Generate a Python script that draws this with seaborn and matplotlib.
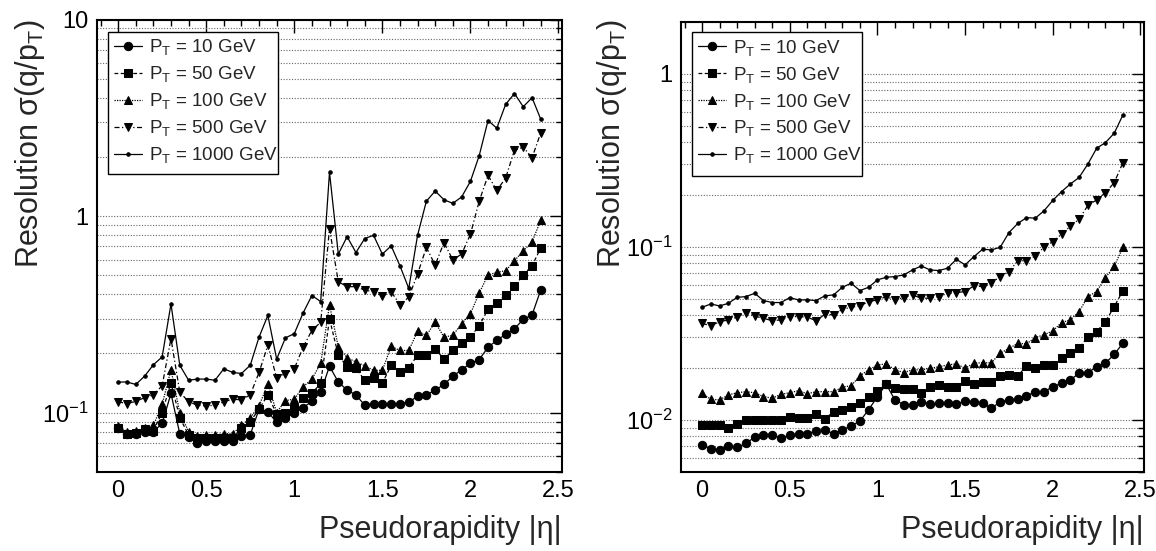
import numpy as np
import matplotlib
matplotlib.use("Agg")
import matplotlib.pyplot as plt
import seaborn as sns
from matplotlib.patches import Rectangle
from matplotlib.ticker import (LogLocator, MultipleLocator, FuncFormatter,
                               NullFormatter, FixedLocator)

# ---------------- data ----------------
eta = [0.00, 0.05, 0.10, 0.15, 0.20, 0.25, 0.30, 0.35, 0.40, 0.45,
       0.50, 0.55, 0.60, 0.65, 0.70, 0.75, 0.80, 0.85, 0.90, 0.95,
       1.00, 1.05, 1.10, 1.15, 1.20, 1.25, 1.30, 1.35, 1.40, 1.45,
       1.50, 1.55, 1.60, 1.65, 1.70, 1.75, 1.80, 1.85, 1.90, 1.95,
       2.00, 2.05, 2.10, 2.15, 2.20, 2.25, 2.30, 2.35, 2.40]

labels = ["P$_\\mathregular{T}$ = 10 GeV", "P$_\\mathregular{T}$ = 50 GeV",
          "P$_\\mathregular{T}$ = 100 GeV", "P$_\\mathregular{T}$ = 500 GeV",
          "P$_\\mathregular{T}$ = 1000 GeV"]

# left panel
left_pt10 = [0.083, 0.078, 0.078, 0.080, 0.080, 0.088, 0.125, 0.078, 0.075, 0.070,
             0.072, 0.072, 0.072, 0.072, 0.076, 0.077, 0.104, 0.101, 0.089, 0.094,
             0.099, 0.106, 0.114, 0.127, 0.172, 0.143, 0.130, 0.123, 0.109, 0.111,
             0.110, 0.111, 0.111, 0.113, 0.121, 0.123, 0.130, 0.139, 0.153, 0.165,
             0.178, 0.186, 0.215, 0.233, 0.250, 0.267, 0.298, 0.314, 0.422]
left_pt50 = [0.083, 0.078, 0.079, 0.082, 0.081, 0.100, 0.142, 0.094, 0.077, 0.074,
             0.074, 0.074, 0.074, 0.074, 0.083, 0.090, 0.104, 0.123, 0.098, 0.100,
             0.106, 0.118, 0.125, 0.141, 0.300, 0.196, 0.171, 0.168, 0.146, 0.150,
             0.141, 0.174, 0.161, 0.169, 0.196, 0.197, 0.211, 0.187, 0.207, 0.225,
             0.242, 0.277, 0.335, 0.360, 0.398, 0.439, 0.502, 0.558, 0.690]
left_pt100 = [0.085, 0.080, 0.081, 0.083, 0.086, 0.110, 0.165, 0.100, 0.080, 0.076,
              0.077, 0.077, 0.078, 0.078, 0.086, 0.094, 0.108, 0.140, 0.100, 0.115,
              0.117, 0.135, 0.148, 0.178, 0.353, 0.216, 0.190, 0.181, 0.173, 0.164,
              0.164, 0.217, 0.207, 0.207, 0.259, 0.247, 0.288, 0.242, 0.247, 0.283,
              0.318, 0.406, 0.501, 0.517, 0.527, 0.592, 0.665, 0.738, 0.955]
left_pt500 = [0.1135, 0.111, 0.114, 0.119, 0.123, 0.137, 0.238, 0.127, 0.1135, 0.109,
              0.108, 0.109, 0.1135, 0.117, 0.116, 0.123, 0.160, 0.220, 0.150, 0.158,
              0.167, 0.215, 0.262, 0.288, 0.863, 0.463, 0.437, 0.437, 0.420, 0.412,
              0.391, 0.412, 0.354, 0.386, 0.507, 0.692, 0.563, 0.733, 0.599, 0.640,
              0.807, 1.19, 1.61, 1.35, 1.56, 2.16, 2.24, 1.98, 2.66]
left_pt1000 = [0.143, 0.143, 0.139, 0.153, 0.175, 0.192, 0.357, 0.174, 0.146, 0.148,
               0.148, 0.146, 0.167, 0.160, 0.158, 0.174, 0.242, 0.312, 0.187, 0.240,
               0.252, 0.321, 0.394, 0.367, 1.67, 0.640, 0.785, 0.652, 0.768, 0.798,
               0.640, 0.705, 0.558, 0.428, 0.798, 1.19, 1.34, 1.21, 1.16, 1.25,
               1.50, 2.03, 3.06, 2.80, 3.70, 4.20, 3.60, 4.00, 3.10]

# right panel
right_pt10 = [0.0071, 0.0068, 0.0067, 0.0070, 0.0069, 0.0073, 0.0079, 0.0082, 0.0082, 0.0078,
              0.0081, 0.0083, 0.0083, 0.0086, 0.0087, 0.0083, 0.0087, 0.0092, 0.0098, 0.0114,
              0.0136, 0.0160, 0.0130, 0.0122, 0.0122, 0.0127, 0.0123, 0.0124, 0.0125, 0.0123,
              0.0128, 0.0127, 0.0125, 0.0116, 0.0127, 0.0130, 0.0131, 0.0137, 0.0145, 0.0145,
              0.0155, 0.0162, 0.0170, 0.0185, 0.0187, 0.0202, 0.0212, 0.0238, 0.0277]
right_pt50 = [0.0093, 0.0093, 0.0093, 0.0089, 0.0094, 0.0100, 0.0100, 0.0100, 0.0100, 0.0100,
              0.0103, 0.0102, 0.0102, 0.0108, 0.0101, 0.0111, 0.0114, 0.0119, 0.0125, 0.0135,
              0.0147, 0.0160, 0.0152, 0.0150, 0.0150, 0.0143, 0.0155, 0.0158, 0.0154, 0.0155,
              0.0168, 0.0161, 0.0164, 0.0166, 0.0179, 0.0181, 0.0179, 0.0204, 0.0198, 0.0207,
              0.0207, 0.0226, 0.0242, 0.0258, 0.0302, 0.0323, 0.0368, 0.0450, 0.0556]
right_pt100 = [0.0142, 0.0131, 0.0130, 0.0139, 0.0143, 0.0145, 0.0143, 0.0136, 0.0133, 0.0140,
               0.0143, 0.0147, 0.0141, 0.0145, 0.0145, 0.0145, 0.0154, 0.0157, 0.0179, 0.0194,
               0.0207, 0.0210, 0.0194, 0.0187, 0.0194, 0.0194, 0.0198, 0.0202, 0.0207, 0.0210,
               0.0198, 0.0212, 0.0213, 0.0213, 0.0242, 0.0258, 0.0276, 0.0274, 0.0298, 0.0309,
               0.0326, 0.0364, 0.0377, 0.0421, 0.0514, 0.0550, 0.0660, 0.0770, 0.0990]
right_pt500 = [0.0360, 0.0349, 0.0368, 0.0377, 0.0391, 0.0415, 0.0397, 0.0385, 0.0373, 0.0377,
               0.0394, 0.0394, 0.0391, 0.0373, 0.0406, 0.0403, 0.0434, 0.0446, 0.0454, 0.0481,
               0.0492, 0.0514, 0.0492, 0.0507, 0.0526, 0.0503, 0.0503, 0.0514, 0.0537, 0.0542,
               0.0550, 0.0593, 0.0587, 0.0619, 0.0671, 0.0717, 0.0826, 0.0830, 0.0883, 0.0991,
               0.107, 0.118, 0.131, 0.144, 0.173, 0.186, 0.205, 0.234, 0.306]
right_pt1000 = [0.0446, 0.0466, 0.0454, 0.0470, 0.0509, 0.0514, 0.0537, 0.0488, 0.0475, 0.0475,
                0.0507, 0.0492, 0.0492, 0.0488, 0.0519, 0.0526, 0.0582, 0.0614, 0.0557, 0.0582,
                0.0642, 0.0665, 0.0671, 0.0686, 0.0733, 0.0773, 0.0733, 0.0727, 0.0750, 0.0845,
                0.0784, 0.0875, 0.0966, 0.0957, 0.0991, 0.1205, 0.136, 0.147, 0.146, 0.161,
                0.185, 0.208, 0.230, 0.251, 0.300, 0.370, 0.399, 0.452, 0.577]

left_series = [left_pt10, left_pt50, left_pt100, left_pt500, left_pt1000]
right_series = [right_pt10, right_pt50, right_pt100, right_pt500, right_pt1000]

left_major = [0.1, 1, 10]
left_major_labels = ["$\\mathregular{10^{-1}}$", "1", "10"]
right_major = [0.01, 0.1, 1]
right_major_labels = ["$\\mathregular{10^{-2}}$", "$\\mathregular{10^{-1}}$", "1"]

# ---------------- style ----------------
sns.set_theme(style="white")
plt.rcParams["font.family"] = ["Liberation Sans", "DejaVu Sans"]
plt.rcParams["mathtext.fontset"] = "custom"
plt.rcParams["mathtext.rm"] = "Liberation Sans"
plt.rcParams["mathtext.it"] = "Liberation Sans:italic"
plt.rcParams["mathtext.bf"] = "Liberation Sans:bold"

styles = [
    dict(marker="o", linestyle="-", markersize=6.0, linewidth=0.9),
    dict(marker="s", linestyle=(0, (3, 2)), markersize=5.5, linewidth=0.9),
    dict(marker="^", linestyle=(0, (1, 1)), markersize=6.0, linewidth=0.9),
    dict(marker="v", linestyle=(0, (4, 2, 1, 2)), markersize=6.0, linewidth=0.9),
    dict(marker="o", linestyle="-", markersize=2.5, linewidth=0.9),
]

W, H = 1156, 551
fig = plt.figure(figsize=(W / 100, H / 100), dpi=100)
axL = fig.add_axes([97 / W, 1 - 471.7 / H, (562 - 97) / W, (471.7 - 19.5) / H])
axR = fig.add_axes([681 / W, 1 - 471.7 / H, (1144 - 681) / W, (471.7 - 21.5) / H])


def draw(ax, series, ylim, majors, major_labels, box, ylab_x, xlab_right):
    for vals, lab, st in zip(series, labels, styles):
        sns.lineplot(x=eta, y=vals, ax=ax, color="black", label=lab,
                     markeredgecolor="black", markerfacecolor="black",
                     sort=False, estimator=None, **st)
    ax.set_yscale("log")
    ax.set_xlim(-0.12, 2.52)
    ax.set_ylim(*ylim)
    ax.yaxis.set_major_locator(FixedLocator(majors))
    ax.yaxis.set_major_formatter(FuncFormatter(
        lambda v, p: major_labels[majors.index(min(majors, key=lambda m: abs(np.log10(m) - np.log10(v))))]))
    ax.yaxis.set_minor_locator(LogLocator(base=10, subs=np.arange(2, 10), numticks=20))
    ax.yaxis.set_minor_formatter(NullFormatter())
    ax.xaxis.set_major_locator(MultipleLocator(0.5))
    ax.xaxis.set_minor_locator(MultipleLocator(0.1))
    ax.xaxis.set_major_formatter(FuncFormatter(lambda v, p: f"{v:g}"))
    ax.grid(True, axis="y", which="both", color="0.4", linestyle=(0, (1, 1.5)),
            linewidth=0.8)
    ax.grid(False, axis="x", which="both")
    ax.tick_params(axis="both", which="both", direction="in", top=True, right=True,
                   colors="black", labelsize=17)
    ax.tick_params(axis="both", which="major", length=9, width=1.0, pad=6)
    ax.tick_params(axis="both", which="minor", length=4.5, width=1.0)
    for sp in ax.spines.values():
        sp.set_color("black")
        sp.set_linewidth(1.5)
    ax.set_xlabel("")
    ax.set_ylabel("")
    # legend box (ROOT-style frame, text may run slightly past it)
    x0, y0, x1, y1 = box
    ax.add_patch(Rectangle((x0 / W, 1 - y1 / H), (x1 - x0) / W, (y1 - y0) / H,
                           transform=fig.transFigure, facecolor="white",
                           edgecolor="black", linewidth=1.0, zorder=4,
                           clip_on=False))
    leg = ax.legend(loc="upper left", bbox_to_anchor=(x0 / W, 1 - y0 / H),
                    bbox_transform=fig.transFigure, borderaxespad=0,
                    fontsize=13.5, frameon=False, handlelength=1.5,
                    handletextpad=0.37, labelspacing=0.37, borderpad=0.3,
                    numpoints=1)
    leg.set_zorder(5)
    fig.text(ylab_x / W, 1 - 19 / H, "Resolution σ(q/p$_\\mathregular{T}$)",
             rotation=90, ha="center", va="top", fontsize=22)
    fig.text(xlab_right / W, 1 - 530 / H, "Pseudorapidity |η|",
             ha="right", va="center", fontsize=22)


draw(axL, left_series, (0.05, 10), left_major, left_major_labels,
     (108, 31.7, 278, 174), 30, 562)
draw(axR, right_series, (0.005, 2.0), right_major, right_major_labels,
     (692, 32, 862, 176), 612, 1144)

fig.savefig("out.png", dpi=100)
